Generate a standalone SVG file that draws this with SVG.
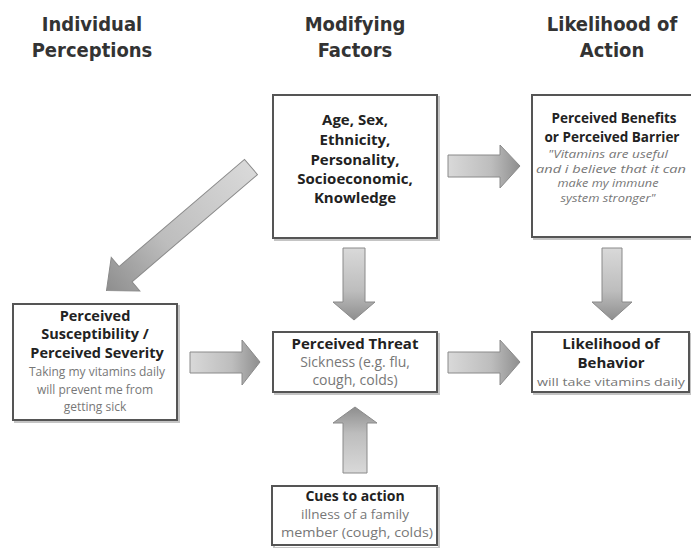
<svg xmlns="http://www.w3.org/2000/svg" width="691" height="548" viewBox="0 0 691 548">
<defs>
<linearGradient id="gh" x1="0" y1="0" x2="1" y2="0">
<stop offset="0" stop-color="#d9d9d9"/><stop offset="0.6" stop-color="#bdbdbd"/><stop offset="1" stop-color="#8e8e8e"/>
</linearGradient>
<linearGradient id="gv" x1="0" y1="0" x2="0" y2="1">
<stop offset="0" stop-color="#d9d9d9"/><stop offset="0.6" stop-color="#bdbdbd"/><stop offset="1" stop-color="#8e8e8e"/>
</linearGradient>
<linearGradient id="gu" x1="0" y1="1" x2="0" y2="0">
<stop offset="0" stop-color="#d9d9d9"/><stop offset="0.6" stop-color="#bdbdbd"/><stop offset="1" stop-color="#8e8e8e"/>
</linearGradient>
</defs>
<style>
.box{fill:#fff;stroke:#555;stroke-width:2}
.sh{fill:none;stroke:#c4c4c4;stroke-width:2}
.hd{font-family:"DejaVu Sans Condensed","DejaVu Sans",sans-serif;font-weight:bold;font-size:20px;fill:#333;text-anchor:middle}
.b{font-family:"Open Sans","DejaVu Sans",sans-serif;font-weight:bold;font-size:15px;fill:#222;text-anchor:middle}
.g{font-family:"Open Sans","DejaVu Sans",sans-serif;font-size:13px;fill:#777;text-anchor:middle}
.i{font-family:"Open Sans","DejaVu Sans",sans-serif;font-style:italic;font-size:10.5px;fill:#777;text-anchor:middle}
.ah{stroke:#8a8a8a;stroke-width:1}
</style>
<rect width="691" height="548" fill="#fff"/>
<g id="headings">
<text class="hd" x="92" y="31">Individual</text>
<text class="hd" x="92" y="57">Perceptions</text>
<text class="hd" x="355" y="31">Modifying</text>
<text class="hd" x="355" y="57">Factors</text>
<text class="hd" x="612" y="31">Likelihood of</text>
<text class="hd" x="612" y="57">Action</text>
</g>
<g id="connectors">
<path class="ah" fill="url(#gh)" d="M448,155 H500 V145 L520,166 L500,188 V177 H448 Z"/>
<path class="ah" fill="url(#gv)" d="M343,248 H365 V302 H375 L354,320 L333,302 H343 Z"/>
<path class="ah" fill="url(#gv)" d="M602,248 H622 V302 H632 L612,320 L592,302 H602 Z"/>
<path class="ah" fill="url(#gh)" d="M190,352 H242 V340 L260,362 L242,385 V373 H190 Z"/>
<path class="ah" fill="url(#gh)" d="M448,352 H500 V340 L520,362 L500,385 V373 H448 Z"/>
<path class="ah" fill="url(#gu)" d="M343,473 V423 H333 L355,407 L377,423 H367 V473 Z"/>
<path class="ah" fill="url(#gh)" transform="translate(251,167) rotate(139.5)" d="M0,-10 H165 V-22 L190,0 L165,22 V10 H0 Z"/>
</g>
<g id="modifying">
<rect class="sh" x="275" y="97" width="164" height="143"/>
<rect class="box" x="273" y="95" width="164" height="143"/>
<text class="b" x="355" y="125">Age, Sex,</text>
<text class="b" x="355" y="145">Ethnicity,</text>
<text class="b" x="355" y="165">Personality,</text>
<text class="b" x="355" y="184">Socioeconomic,</text>
<text class="b" x="355" y="203">Knowledge</text>
</g>
<g id="benefits">
<rect class="sh" x="534" y="97" width="170" height="142"/>
<rect class="box" x="532" y="95" width="170" height="142"/>
<text class="b" x="614" y="123" style="font-size:13.5px">Perceived Benefits</text>
<text class="b" x="612" y="142" style="font-size:13.5px">or Perceived Barrier</text>
<text class="i" x="608" y="158" textLength="120" lengthAdjust="spacingAndGlyphs">"Vitamins are useful</text>
<text class="i" x="611" y="172.5" textLength="150" lengthAdjust="spacingAndGlyphs">and i believe that it can</text>
<text class="i" x="608" y="187" textLength="101" lengthAdjust="spacingAndGlyphs">make my immune</text>
<text class="i" x="608" y="201.5" textLength="95" lengthAdjust="spacingAndGlyphs">system stronger"</text>
</g>
<g id="susceptibility">
<rect class="sh" x="15" y="306" width="164" height="116"/>
<rect class="box" x="13" y="304" width="164" height="116"/>
<text class="b" x="95" y="321" style="font-size:14.5px">Perceived</text>
<text class="b" x="95" y="339" style="font-size:14.5px">Susceptibility /</text>
<text class="b" x="97" y="358" style="font-size:14.5px">Perceived Severity</text>
<text class="g" x="97" y="376" style="font-size:12px">Taking my vitamins daily</text>
<text class="g" x="95" y="394" style="font-size:12px">will prevent me from</text>
<text class="g" x="95" y="411" style="font-size:12px">getting sick</text>
</g>
<g id="threat">
<rect class="sh" x="275" y="334" width="164" height="60"/>
<rect class="box" x="273" y="332" width="164" height="60"/>
<text class="b" x="355" y="349">Perceived Threat</text>
<text class="g" x="355" y="367" style="font-size:14px">Sickness (e.g. flu,</text>
<text class="g" x="355" y="385" style="font-size:14px">cough, colds)</text>
</g>
<g id="behavior">
<rect class="sh" x="534" y="334" width="157" height="60"/>
<rect class="box" x="532" y="332" width="157" height="60"/>
<text class="b" x="611" y="349">Likelihood of</text>
<text class="b" x="611" y="368">Behavior</text>
<text class="g" x="611" y="386" style="font-size:11.5px" textLength="148" lengthAdjust="spacingAndGlyphs">will take vitamins daily</text>
</g>
<g id="cues">
<rect class="sh" x="274" y="488" width="165" height="60"/>
<rect class="box" x="272" y="486" width="165" height="59"/>
<text class="b" x="355" y="501" style="font-size:14px">Cues to action</text>
<text class="g" x="355" y="519" style="font-size:13px" textLength="108" lengthAdjust="spacingAndGlyphs">illness of a family</text>
<text class="g" x="357" y="537" style="font-size:13px" textLength="152" lengthAdjust="spacingAndGlyphs">member (cough, colds)</text>
</g>
</svg>
